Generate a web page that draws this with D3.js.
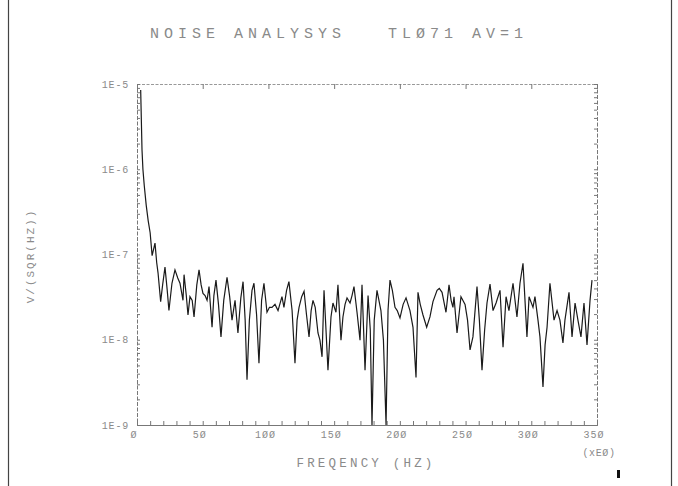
<!DOCTYPE html>
<html><head><meta charset="utf-8">
<script src="https://cdn.jsdelivr.net/npm/d3@7"></script>
<style>
html,body{margin:0;padding:0;background:#fff;}
svg{display:block;}
text{font-family:"Liberation Mono","DejaVu Sans Mono",monospace;fill:#8a8a8a;white-space:pre;}
</style></head>
<body>
<script>
// ---- data ----
const title = "NOISE ANALYSYS   TLØ71 AV=1";
const xLabel = "FREQENCY (HZ)";
const yLabel = "V/(SQR(HZ))";
const xUnit = "(xEØ)";
const xMajorTicks = [0, 50, 100, 150, 200, 250, 300, 350];
const xMajorLabels = ["Ø", "5Ø", "1ØØ", "15Ø", "2ØØ", "25Ø", "3ØØ", "35Ø"];
const yMajorTicks = [1e-9, 1e-8, 1e-7, 1e-6, 1e-5];
const yMajorLabels = ["1E-9", "1E-8", "1E-7", "1E-6", "1E-5"];

const freq = [2.8,3.8,4.5,5.5,7,8.5,10,11.5,13.7,15,16,18,19.5,21.3,23,24.3,26.6,28.9,31,32.7,35,35.8,37.5,38.8,40.3,42,43.4,45.5,47.2,48.8,50.2,51.8,53.3,54.8,57.1,58.5,60.1,62,63.9,66,68.5,70.5,72.3,74.6,76.8,79,80.7,82.3,83.7,85.5,87.5,89,91,92.8,94.8,96.6,98.9,100.8,102.7,105,107.3,110.3,111.8,113.8,115.6,118,120.2,121.8,123.3,125.3,127.1,129,130.9,132.5,133.9,135.6,137.7,139.2,140.8,142.3,143.8,145.3,147.6,149.1,151.4,152.9,155.2,156.7,158.3,159.8,162.1,163.6,165.1,167.4,169.7,171.2,173.5,175.8,177.5,178.8,180.5,182.6,185.6,187.5,189.5,191,192.5,194.3,196.3,198,200.1,202.5,204.7,207.7,210,212.3,213.8,215.5,217.6,220.4,222.9,225.2,228.3,230,232.1,235.1,237.4,239,240.4,241.2,243.5,246.5,249.6,251.5,253.4,255.6,258.7,260.5,262.5,264.5,266.3,268.6,270.9,273.2,276.2,278.5,280.8,283,286.1,289.1,291.4,293.7,296.7,298.3,301.3,302.8,305.1,306.6,308.9,310.5,312,314.2,317.3,319.6,321.8,324.1,325.6,328.7,331,333.3,335.5,337.8,340.1,342.4,344.7,346.2];
const noise = [8.5e-6,1.7e-6,1.0e-6,6.5e-7,3.8e-7,2.5e-7,1.8e-7,9.7e-8,1.36e-7,8e-8,6.1e-8,2.8e-8,4.4e-8,7.1e-8,3.8e-8,2.2e-8,4.6e-8,6.6e-8,5.3e-8,4.6e-8,2.9e-8,5.8e-8,3.3e-8,1.95e-8,3.2e-8,2.9e-8,1.85e-8,4.4e-8,6.6e-8,4.4e-8,3.5e-8,3.3e-8,2.9e-8,4.2e-8,1.4e-8,3.3e-8,5.0e-8,2.6e-8,1.08e-8,2.9e-8,5.4e-8,3.2e-8,1.7e-8,2.9e-8,1.2e-8,3.1e-8,4.8e-8,1.7e-8,3.4e-9,1.7e-8,3.8e-8,4.6e-8,1.95e-8,5.3e-9,2.9e-8,4.6e-8,2.1e-8,2.4e-8,2.4e-8,2.6e-8,2.2e-8,3.2e-8,2.4e-8,3.8e-8,4.8e-8,2.2e-8,5.3e-9,1.7e-8,2.4e-8,3.2e-8,3.7e-8,1.95e-8,1.08e-8,2.2e-8,2.9e-8,2.4e-8,1.2e-8,9.9e-9,6.3e-9,3.8e-8,1.3e-8,4.4e-9,1.85e-8,2.7e-8,2.1e-8,4.4e-8,9.9e-9,1.85e-8,2.6e-8,3.1e-8,2.7e-8,3.3e-8,4.2e-8,2.1e-8,9.9e-9,4.4e-8,4.4e-9,3.3e-8,1.3e-8,1.0e-9,1.7e-8,3.8e-8,2.2e-8,9.9e-9,1.0e-9,2.2e-8,5.0e-8,3.8e-8,2.4e-8,2.2e-8,1.8e-8,2.6e-8,3.1e-8,2.2e-8,1.4e-8,3.6e-9,3.6e-8,2.6e-8,1.95e-8,1.4e-8,1.85e-8,2.8e-8,3.8e-8,4.0e-8,3.6e-8,2.1e-8,4.4e-8,2.9e-8,2.4e-8,3.2e-8,1.2e-8,3.2e-8,2.6e-8,1.7e-8,7.6e-9,1.08e-8,4.2e-8,1.7e-8,4.4e-9,1.3e-8,2.7e-8,4.5e-8,2.2e-8,2.7e-8,3.8e-8,8.2e-9,3.2e-8,2.2e-8,4.6e-8,1.85e-8,4.6e-8,7.9e-8,1.08e-8,3.2e-8,2.4e-8,3.2e-8,1.7e-8,1.08e-8,2.8e-9,8.7e-9,1.4e-8,4.6e-8,1.7e-8,2.2e-8,1.7e-8,9.2e-9,1.7e-8,3.6e-8,1.08e-8,2.7e-8,1.7e-8,1.08e-8,2.7e-8,8.7e-9,2.9e-8,5.0e-8];

// ---- layout ----
const W = 678, H = 486;
const L = 137, R = 597, T = 84, B = 425;

const svg = d3.select("body").append("svg").attr("width", W).attr("height", H);

// outer frame
svg.append("line").attr("x1", 8.5).attr("x2", 8.5).attr("y1", 0).attr("y2", H).attr("stroke", "#444").attr("stroke-width", 1.2);
svg.append("line").attr("x1", 671.5).attr("x2", 671.5).attr("y1", 0).attr("y2", H).attr("stroke", "#444").attr("stroke-width", 1.2);

const x = d3.scaleLinear().domain([0, 350]).range([L, R]);
const y = d3.scaleLog().domain([1e-9, 1e-5]).range([B, T]);

const frameColor = "#777";

// minor log ticks
const yMinor = [];
for (let e = -9; e < -5; e++) for (let m = 1; m < 10; m++) yMinor.push(m * Math.pow(10, e));
yMinor.push(1e-5);

const gB = svg.append("g").attr("transform", `translate(0,${B})`)
  .call(d3.axisBottom(x).tickValues(d3.range(0, 351, 10)).tickSize(-4).tickFormat(""));
const gT = svg.append("g").attr("transform", `translate(0,${T})`)
  .call(d3.axisTop(x).tickValues(xMajorTicks).tickSize(-5).tickFormat(""));
const gL = svg.append("g").attr("transform", `translate(${L},0)`)
  .call(d3.axisLeft(y).tickValues(yMinor).tickSize(-3).tickFormat(""));
const gR = svg.append("g").attr("transform", `translate(${R},0)`)
  .call(d3.axisRight(y).tickValues(yMinor).tickSize(-3).tickFormat(""));

[gB, gT, gL, gR].forEach(g => {
  g.selectAll(".domain").attr("stroke", frameColor).attr("stroke-width", 1);
  g.selectAll(".tick line").attr("stroke", frameColor).attr("stroke-width", 1);
});
gL.selectAll(".domain").attr("stroke-dasharray", "4,1.5");
gR.selectAll(".domain").attr("stroke-dasharray", "4,1.5");
gT.selectAll(".domain").attr("stroke-dasharray", "3,1.5").attr("stroke", "#999");

// tick labels
svg.append("g").selectAll("text").data(xMajorTicks).join("text")
  .attr("x", d => x(d) - 3).attr("y", B + 13)
  .attr("text-anchor", "middle").attr("font-size", 10).attr("letter-spacing", 1)
  .text((d, i) => xMajorLabels[i]);
svg.append("g").selectAll("text").data(yMajorTicks).join("text")
  .attr("x", L - 8).attr("y", d => y(d) + 3.5)
  .attr("text-anchor", "end").attr("font-size", 10).attr("letter-spacing", 0.8)
  .text((d, i) => yMajorLabels[i]);

// titles
svg.append("text").attr("x", 339).attr("y", 38).attr("text-anchor", "middle")
  .attr("font-size", 15).attr("letter-spacing", 5.0).text(title);
svg.append("text").attr("x", 366).attr("y", 467).attr("text-anchor", "middle")
  .attr("font-size", 12.5).attr("letter-spacing", 3.2).text(xLabel);
svg.append("text").attr("x", 599).attr("y", 456).attr("text-anchor", "middle")
  .attr("font-size", 10).attr("letter-spacing", 0.6).text(xUnit);
svg.append("text").attr("transform", "translate(34,256) rotate(-90)")
  .attr("text-anchor", "middle").attr("font-size", 11).attr("letter-spacing", 2).text(yLabel);
svg.append("rect").attr("x", 617).attr("y", 470).attr("width", 3).attr("height", 8).attr("fill", "#111");

// data line
svg.append("clipPath").attr("id", "clip").append("rect")
  .attr("x", L).attr("y", T).attr("width", R - L).attr("height", B - T);
const pts = freq.map((f, i) => [f, noise[i]]);
svg.append("path").datum(pts)
  .attr("clip-path", "url(#clip)")
  .attr("fill", "none").attr("stroke", "#1a1a1a").attr("stroke-width", 1.2)
  .attr("d", d3.line().x(d => x(d[0])).y(d => y(d[1])));
</script>
</body></html>
